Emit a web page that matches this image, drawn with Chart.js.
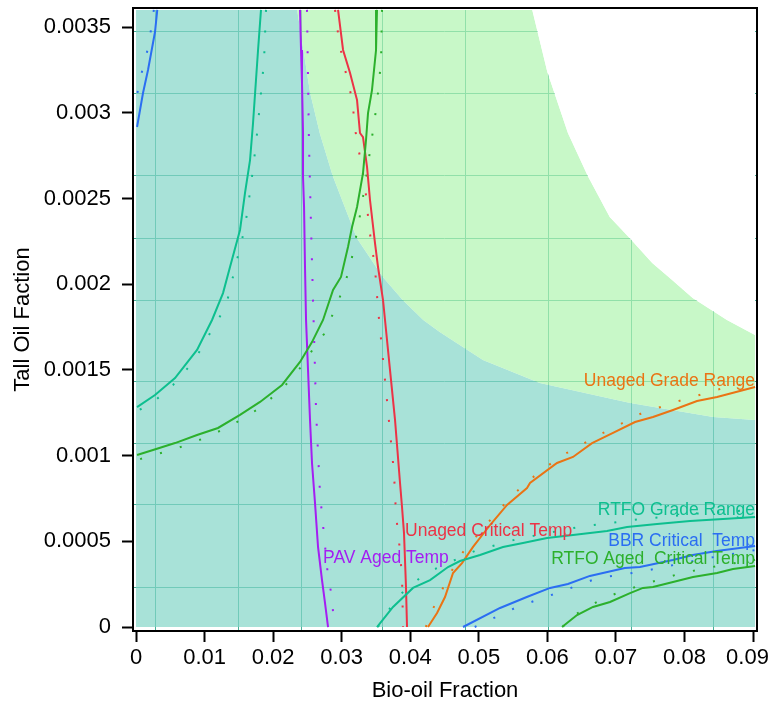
<!DOCTYPE html>
<html>
<head>
<meta charset="utf-8">
<script src="https://cdn.jsdelivr.net/npm/chart.js@4.4.1/dist/chart.umd.min.js"></script>
<style>
  html, body { margin: 0; padding: 0; background: #fff; }
  canvas { display: block; }
</style>
</head>
<body>
<canvas id="c" width="770" height="704"></canvas>
<script>
/* Контурный график: доли био-масла и таллового масла, границы критических температур. */

const X_TICKS = [0, 0.01, 0.02, 0.03, 0.04, 0.05, 0.06, 0.07, 0.08, 0.09];
const Y_TICKS = [0, 0.0005, 0.001, 0.0015, 0.002, 0.0025, 0.003, 0.0035];

// сетка исходного контурного графика (неравномерная)
const MESH_X = [0.0029, 0.0150, 0.0241, 0.0360, 0.0480, 0.0601, 0.0723, 0.0843];
const MESH_Y = [0.000228, 0.000712, 0.001073, 0.001435, 0.001907, 0.002269, 0.002631, 0.003115, 0.003471];

// границы закрашенных областей
const rtfoRegionEdge = [[0, 0.0036], [0.0235, 0.0036], [0.0254, 0.003115], [0.0268, 0.002882], [0.0287, 0.002631],
    [0.0322, 0.002269], [0.0360, 0.002042], [0.0389, 0.001907], [0.0419, 0.001791], [0.0443, 0.001721],
    [0.0506, 0.001558], [0.0589, 0.001423], [0.0721, 0.001307], [0.0842, 0.001225], [0.0903, 0.001207]];
const unagedRegionEdge = [[0, 0.0036], [0.0578, 0.0036], [0.0600, 0.003237], [0.0630, 0.002882], [0.0659, 0.002631],
    [0.0691, 0.002392], [0.0720, 0.002269], [0.0753, 0.002123], [0.0782, 0.002024], [0.0812, 0.001919],
    [0.0862, 0.001791], [0.0903, 0.001703]];

// BBR Critical Temp
const bbrTop = [[0.0031, 0.0036], [0.00277, 0.003471], [0.00175, 0.003249], [0.00102, 0.003115], [0.00015, 0.002917]];
const bbrTopCi = [[0.0026, 0.0036], [0.0019, 0.003407], [0.00131, 0.003302], [0.00044, 0.003179], [0, 0.003057]];
const bbrBottom = [[0.0477, 0], [0.0531, 0.000111], [0.0570, 0.000175], [0.0604, 0.000228], [0.0630, 0.000251],
    [0.0662, 0.000298], [0.0713, 0.000344], [0.0735, 0.000350], [0.0783, 0.000391], [0.0812, 0.000420],
    [0.0847, 0.000443], [0.0903, 0.000473]];
const bbrBottomCi = [[0.0494, 0], [0.0556, 0.000117], [0.0618, 0.000204], [0.0674, 0.000286], [0.0735, 0.000321],
    [0.0827, 0.000397], [0.0903, 0.000449]];

// RTFO Grade Range
const rtfoGradeTop = [[0.01823, 0.0036], [0.01780, 0.003366], [0.01707, 0.00294], [0.01663, 0.002724], [0.0159, 0.002532],
    [0.01517, 0.002316], [0.01371, 0.0021], [0.01269, 0.001948], [0.01109, 0.001791], [0.0089, 0.001616],
    [0.00569, 0.001452], [0.00277, 0.001353], [0.00015, 0.001283]];
const rtfoGradeTopCi = [[0.01896, 0.0036], [0.01867, 0.003302], [0.01809, 0.003057], [0.0175, 0.002818], [0.01677, 0.002578],
    [0.0159, 0.002333], [0.01444, 0.002094], [0.01313, 0.001872], [0.01123, 0.001744], [0.00846, 0.001552],
    [0.0054, 0.001412], [0.00219, 0.001301], [0.00015, 0.00126]];
const rtfoGradeBottom = [[0.03515, 0], [0.03749, 0.000117], [0.0404, 0.000228], [0.04289, 0.000274], [0.04551, 0.00035],
    [0.04726, 0.000385], [0.05018, 0.00042], [0.05353, 0.000467], [0.05645, 0.00049], [0.05995, 0.000519],
    [0.06374, 0.000537], [0.0687, 0.00056], [0.07162, 0.000583], [0.076, 0.000601], [0.08081, 0.000618],
    [0.08562, 0.00063], [0.0903, 0.000642]];
const rtfoGradeBottomCi = [[0.0353, 0], [0.0381, 0.000175], [0.0414, 0.000286], [0.0436, 0.000338], [0.0494, 0.000443],
    [0.0556, 0.000513], [0.0645, 0.000583], [0.0737, 0.00063], [0.0827, 0.000665], [0.0903, 0.000683]];

// RTFO Aged Critical Temp
const rtfoAgedTop = [[0.03515, 0.0036], [0.03501, 0.003366], [0.03442, 0.003132], [0.03384, 0.002998], [0.03355, 0.002841],
    [0.03311, 0.002648], [0.03224, 0.00245], [0.03151, 0.002333], [0.03092, 0.002217], [0.0299, 0.002042],
    [0.02874, 0.001966], [0.02728, 0.001791], [0.02567, 0.001662], [0.02392, 0.001546], [0.0213, 0.001412],
    [0.01809, 0.001313], [0.01517, 0.001237], [0.01196, 0.001161], [0.0089, 0.00112], [0.00569, 0.001073],
    [0.00248, 0.001033], [0.00015, 0.001003]];
const rtfoAgedTopCi = [[0.03588, 0.0036], [0.03574, 0.003302], [0.03515, 0.003057], [0.03428, 0.002818], [0.0334, 0.002578],
    [0.03238, 0.002333], [0.03122, 0.0021], [0.0302, 0.001972], [0.02903, 0.001855], [0.02742, 0.001709],
    [0.02582, 0.001622], [0.02421, 0.001523], [0.02144, 0.001394], [0.01809, 0.001278], [0.014, 0.001178],
    [0.01036, 0.001108], [0.00569, 0.001038], [0.0016, 0.000992], [0.00015, 0.000974]];
const rtfoAgedBottom = [[0.06214, 0], [0.06433, 0.00007], [0.06666, 0.000117], [0.06914, 0.000146], [0.07206, 0.000198],
    [0.07395, 0.000228], [0.07541, 0.000233], [0.07833, 0.000263], [0.08125, 0.000292], [0.08475, 0.000315],
    [0.08708, 0.000338], [0.0903, 0.000356]];
const rtfoAgedBottomCi = [[0.0623, 0], [0.0626, 0.00004], [0.06447, 0.000082], [0.06797, 0.000163], [0.0706, 0.000204],
    [0.07468, 0.000257], [0.07964, 0.000315], [0.08562, 0.000362], [0.0903, 0.000391]];

// PAV Aged Temp
const pavAged = [[0.02392, 0.0036], [0.02407, 0.003366], [0.02421, 0.003173], [0.02436, 0.002882], [0.02436, 0.002625],
    [0.02451, 0.00245], [0.02465, 0.0021], [0.0248, 0.001791], [0.02509, 0.001499], [0.02538, 0.001208],
    [0.02567, 0.000957], [0.02611, 0.000723], [0.02655, 0.000467], [0.02713, 0.000274], [0.02757, 0.00014],
    [0.02801, 0]];
const pavAgedCi = [[0.02494, 0.0036], [0.02523, 0.002818], [0.02553, 0.002333], [0.02582, 0.001907], [0.02611, 0.001499],
    [0.02626, 0.00126], [0.02655, 0.001015], [0.02684, 0.000776], [0.02742, 0.000537], [0.02801, 0.000292],
    [0.02859, 0.000175], [0.02888, 0]];

// Unaged Critical Temp
const unagedCrit = [[0.02947, 0.0036], [0.0302, 0.003366], [0.03122, 0.003232], [0.03224, 0.003074], [0.03267, 0.002882],
    [0.03311, 0.002858], [0.0337, 0.002683], [0.03413, 0.002491], [0.03486, 0.00224], [0.0353, 0.0021],
    [0.03603, 0.001907], [0.03632, 0.001791], [0.03705, 0.001499], [0.03778, 0.001208], [0.03851, 0.00084],
    [0.0388, 0.0007], [0.03909, 0.000548], [0.03938, 0.000233], [0.03953, 0]];
const unagedCritCi = [[0.02903, 0.0036], [0.02961, 0.003418], [0.0302, 0.003302], [0.03092, 0.003179], [0.03165, 0.003057],
    [0.0318, 0.00294], [0.03238, 0.002806], [0.0334, 0.002578], [0.03399, 0.002333], [0.03486, 0.002094],
    [0.0353, 0.001855], [0.03588, 0.001622], [0.03647, 0.001377], [0.03705, 0.001138], [0.03763, 0.000898],
    [0.03793, 0.000653], [0.03836, 0.000502], [0.0388, 0.000292], [0.03895, 0]];

// Unaged Grade Range
const unagedGrade = [[0.04259, 0], [0.04391, 0.000082], [0.04507, 0.000175], [0.04624, 0.000315], [0.04755, 0.000373],
    [0.04916, 0.000467], [0.05164, 0.000595], [0.05412, 0.000712], [0.05703, 0.000811], [0.05747, 0.00084],
    [0.06141, 0.000957], [0.06374, 0.000992], [0.06652, 0.001073], [0.06958, 0.001132], [0.07279, 0.001196],
    [0.07541, 0.001225], [0.07833, 0.001266], [0.08183, 0.001318], [0.08475, 0.001342], [0.0903, 0.0014]];
const unagedGradeCi = [[0.0423, 0], [0.04259, 0.000053], [0.04391, 0.000152], [0.04551, 0.000292], [0.0477, 0.000437],
    [0.0528, 0.000677], [0.05558, 0.000793], [0.05878, 0.000904], [0.06228, 0.001003], [0.06783, 0.001126],
    [0.07381, 0.001248], [0.07964, 0.001324], [0.08562, 0.001394], [0.0903, 0.001429]];

const C = {
    blue: '#2b6ef2', teal: '#0dbf8f', green: '#2cb02c', purple: '#a41ef2', red: '#ec3346', orange: '#ea7414',
};

const FONT = '"Liberation Sans", Arial, sans-serif';

// подписи кривых (координаты в единицах осей)
const CURVE_LABELS = [
    { text: 'Unaged Grade Range', x: 0.0903, y: 0.001406, align: 'right', color: C.orange },
    { text: 'RTFO Grade Range', x: 0.0903, y: 0.000653, align: 'right', color: C.teal },
    { text: 'BBR Critical  Temp', x: 0.0903, y: 0.000473, align: 'right', color: C.blue },
    { text: 'RTFO Aged  Critical Temp', x: 0.0903, y: 0.000367, align: 'right', color: C.green },
    { text: 'Unaged Critical Temp', x: 0.03924, y: 0.000531, align: 'left', color: C.red },
    { text: 'PAV Aged Temp', x: 0.02728, y: 0.000373, align: 'left', color: C.purple },
];

const pts = (arr) => arr.map(([x, y]) => ({ x, y }));

function curve(arr, color, dotted) {
    return {
        data: pts(arr),
        borderColor: color,
        borderWidth: 2,
        borderDash: dotted ? [2, 18.7] : [],
        borderCapStyle: 'butt',
        pointRadius: 0,
        fill: false,
        tension: 0,
        order: dotted ? 6 : 5,
    };
}

const labelPlugin = {
    id: 'curveLabels',
    afterDatasetsDraw(chart) {
        const { ctx, scales } = chart;
        ctx.save();
        ctx.font = '17.5px ' + FONT;
        ctx.textBaseline = 'alphabetic';
        for (const l of CURVE_LABELS) {
            ctx.fillStyle = l.color;
            ctx.textAlign = l.align;
            ctx.fillText(l.text, scales.x.getPixelForValue(l.x), scales.y.getPixelForValue(l.y));
        }
        ctx.restore();
    },
};

// фиксированные размеры осей, без авто-отступов под крайние подписи
function fixBox(size) {
    return (s) => {
        if (s.isHorizontal()) s.height = size; else s.width = size;
        s.paddingLeft = s.paddingRight = s.paddingTop = s.paddingBottom = 0;
    };
}

const X_MIN = -0.00044, X_MAX = 0.09058;
const Y_MIN = -0.0000233, Y_MAX = 0.003611;
const MESH_COLOR = 'rgb(70, 175, 150)';
const tickFont = { family: FONT, size: 22 };

new Chart(document.getElementById('c'), {
    type: 'line',
    data: {
        datasets: [
            { data: pts(rtfoRegionEdge), fill: 'origin', backgroundColor: 'rgba(131, 214, 199, 0.7)',
                borderWidth: 0, pointRadius: 0, order: 30 },
            { data: pts(unagedRegionEdge), fill: 0, backgroundColor: 'rgba(176, 245, 176, 0.7)',
                borderWidth: 0, pointRadius: 0, order: 29 },
            { data: pts(unagedRegionEdge), fill: 'end', backgroundColor: '#ffffff',
                borderWidth: 0, pointRadius: 0, order: 28 },
            curve(bbrTop, C.blue), curve(bbrTopCi, C.blue, true),
            curve(bbrBottom, C.blue), curve(bbrBottomCi, C.blue, true),
            curve(rtfoGradeTop, C.teal), curve(rtfoGradeTopCi, C.teal, true),
            curve(rtfoGradeBottom, C.teal), curve(rtfoGradeBottomCi, C.teal, true),
            curve(rtfoAgedTop, C.green), curve(rtfoAgedTopCi, C.green, true),
            curve(rtfoAgedBottom, C.green), curve(rtfoAgedBottomCi, C.green, true),
            curve(pavAged, C.purple), curve(pavAgedCi, C.purple, true),
            curve(unagedCrit, C.red), curve(unagedCritCi, C.red, true),
            curve(unagedGrade, C.orange), curve(unagedGradeCi, C.orange, true),
        ],
    },
    options: {
        responsive: false,
        animation: false,
        layout: { padding: 0 },
        plugins: { legend: { display: false }, tooltip: { enabled: false } },
        scales: {
            x: {
                type: 'linear', position: 'bottom', min: X_MIN, max: X_MAX,
                afterBuildTicks: (s) => { s.ticks = X_TICKS.map((v) => ({ value: v })); },
                afterFit: fixBox(73),
                ticks: {
                    font: tickFont, color: '#000', padding: 3, autoSkip: false, maxRotation: 0,
                    // последняя подпись чуть сдвинута внутрь, как в оригинале
                    callback: (v, i, all) => (i === all.length - 1 ? String(v) + '\u2002' : String(v)),
                },
                grid: { drawOnChartArea: false, drawTicks: true, tickLength: 11, tickWidth: 2, tickColor: '#000' },
                border: { display: true, color: '#000', width: 2, z: 1 },
                title: { display: true, text: 'Bio-oil Fraction', color: '#000', font: tickFont, padding: { top: 0, bottom: 0 } },
            },
            y: {
                type: 'linear', position: 'left', min: Y_MIN, max: Y_MAX,
                afterBuildTicks: (s) => { s.ticks = Y_TICKS.map((v) => ({ value: v })); },
                afterFit: fixBox(133),
                ticks: { font: tickFont, color: '#000', padding: 11, autoSkip: false, callback: (v) => String(v) },
                grid: { drawOnChartArea: false, drawTicks: true, tickLength: 11, tickWidth: 2, tickColor: '#000' },
                border: { display: true, color: '#000', width: 2, z: 1 },
                title: { display: true, text: 'Tall Oil Faction', color: '#000', font: tickFont, padding: { top: 10, bottom: 0 } },
            },
            x2: {
                type: 'linear', position: 'top', min: X_MIN, max: X_MAX,
                afterBuildTicks: (s) => { s.ticks = MESH_X.map((v) => ({ value: v })); },
                afterFit: fixBox(8),
                ticks: { display: false },
                grid: { drawTicks: false, color: MESH_COLOR, lineWidth: 1 },
                border: { display: true, color: '#000', width: 2, z: 1 },
            },
            y2: {
                type: 'linear', position: 'right', min: Y_MIN, max: Y_MAX,
                afterBuildTicks: (s) => { s.ticks = MESH_Y.map((v) => ({ value: v })); },
                afterFit: fixBox(13),
                ticks: { display: false },
                grid: { drawTicks: false, color: MESH_COLOR, lineWidth: 1 },
                border: { display: true, color: '#000', width: 2, z: 1 },
            },
        },
    },
    plugins: [labelPlugin],
});
</script>
</body>
</html>
